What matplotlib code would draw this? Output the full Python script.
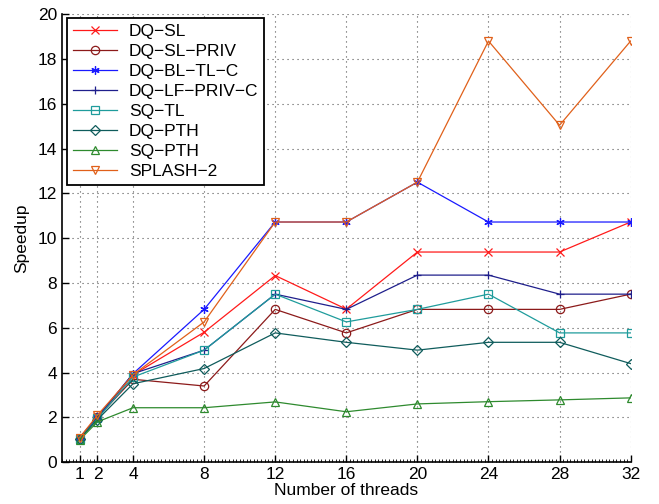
import matplotlib
matplotlib.use("Agg")
import matplotlib.pyplot as plt
from matplotlib.ticker import MultipleLocator

plt.rcParams["font.family"] = ["Liberation Sans", "DejaVu Sans"]

threads = [1, 2, 4, 8, 12, 16, 20, 24, 28, 32]

dq_sl = [1.1, 2.0, 3.9, 5.8, 8.33, 6.83, 9.38, 9.38, 9.38, 10.72]
dq_sl_priv = [1.05, 2.0, 3.7, 3.4, 6.82, 5.77, 6.82, 6.82, 6.82, 7.5]
dq_bl_tl_c = [1.1, 2.0, 3.95, 6.82, 10.72, 10.72, 12.5, 10.72, 10.72, 10.72]
dq_lf_priv_c = [1.1, 2.0, 3.95, 5.0, 7.5, 6.82, 8.35, 8.35, 7.5, 7.5]
sq_tl = [1.05, 1.95, 3.8, 5.0, 7.5, 6.26, 6.82, 7.5, 5.77, 5.77]
dq_pth = [1.05, 1.9, 3.5, 4.18, 5.77, 5.35, 5.0, 5.35, 5.35, 4.4]
sq_pth = [1.0, 1.8, 2.43, 2.43, 2.69, 2.25, 2.6, 2.7, 2.78, 2.87]
splash2 = [1.1, 2.1, 3.9, 6.26, 10.72, 10.72, 12.5, 18.8, 15.04, 18.8]

series = [
    ("DQ\u2212SL", dq_sl, "#ff1a1a", "x"),
    ("DQ\u2212SL\u2212PRIV", dq_sl_priv, "#8c1a1a", "o"),
    ("DQ\u2212BL\u2212TL\u2212C", dq_bl_tl_c, "#1a1aff", (6, 2, 0)),
    ("DQ\u2212LF\u2212PRIV\u2212C", dq_lf_priv_c, "#1f1f8c", "+"),
    ("SQ\u2212TL", sq_tl, "#1f9c9c", "s"),
    ("DQ\u2212PTH", dq_pth, "#0f5c5c", "D"),
    ("SQ\u2212PTH", sq_pth, "#2e8a2e", "^"),
    ("SPLASH\u22122", splash2, "#e0601a", "v"),
]

fig = plt.figure(figsize=(6.59, 5.04), dpi=100)
ax = fig.add_axes([0.094, 0.083, 0.863, 0.889])

for name, vals, color, marker in series:
    ms = 5 if marker == "D" else 6
    ax.plot(threads, vals, color=color, marker=marker, markersize=ms,
            fillstyle="none", markeredgewidth=0.9, linewidth=0.9, label=name)

ax.set_xlim(0, 32)
ax.set_ylim(0, 20)
ax.set_xticks(threads)
ax.set_yticks(range(0, 21, 2))
ax.xaxis.set_minor_locator(MultipleLocator(0.2))
ax.tick_params(axis="both", which="major", direction="in", length=5,
               labelsize=12.5, width=1)
ax.tick_params(axis="x", which="minor", direction="in", length=2, width=0.6)
ax.grid(True, which="major", linestyle=(0, (1, 3.5)), color="#555555",
        linewidth=0.8)

for side in ["top", "right"]:
    ax.spines[side].set_visible(False)
for side in ["left", "bottom"]:
    ax.spines[side].set_linewidth(1.2)

ax.set_xlabel("Number of threads", fontsize=12.5, labelpad=1)
ax.set_ylabel("Speedup", fontsize=12.5, labelpad=6)

leg = ax.legend(loc="upper left", bbox_to_anchor=(0.009, 0.992),
                borderaxespad=0, fontsize=12.5, fancybox=False,
                edgecolor="black", framealpha=1, handlelength=2.5,
                labelspacing=0.28, borderpad=0.35, handletextpad=0.7)
leg.get_frame().set_linewidth(1.3)

fig.savefig("out.png", dpi=100)
